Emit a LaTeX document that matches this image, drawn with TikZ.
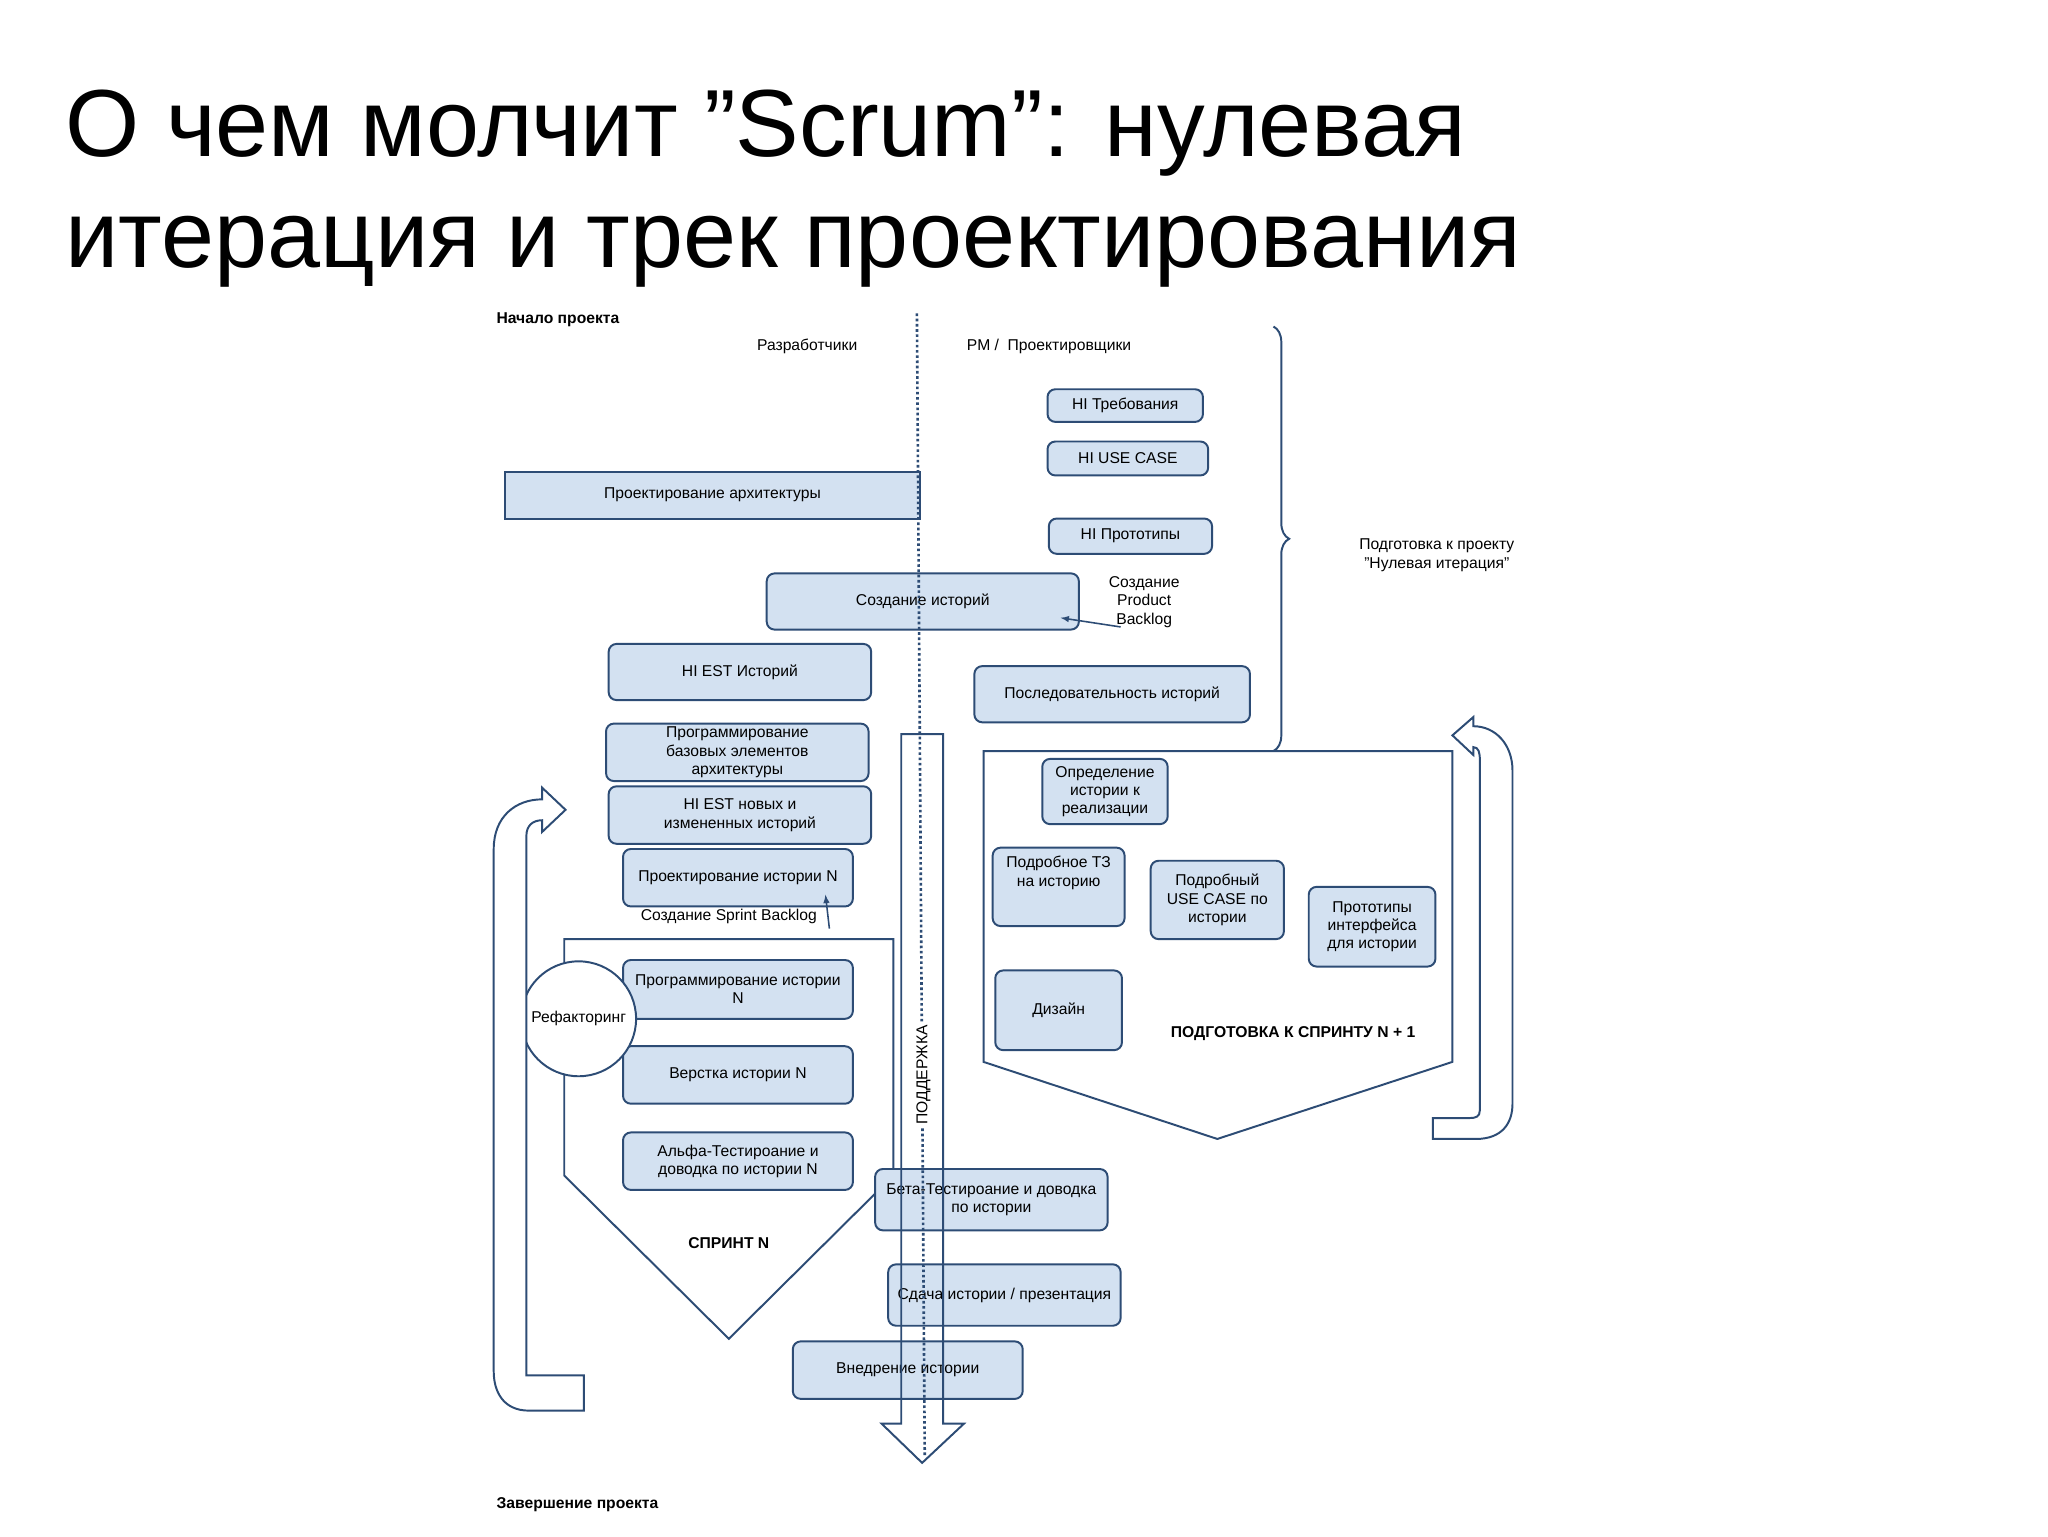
\documentclass[tikz,border=0pt]{standalone}
\usepackage{fontspec}
\setmainfont{Liberation Sans}
\usetikzlibrary{decorations.pathreplacing}
\definecolor{ln}{HTML}{2D4C75}
\definecolor{fl}{HTML}{D3E1F1}
\tikzset{
 bx/.style={draw=ln,fill=fl,line width=1.5pt,rounded corners=6pt,align=center,font=\fontsize{12}{14}\selectfont,inner sep=0pt},
 lbl/.style={align=center,font=\fontsize{12}{14}\selectfont,inner sep=0pt},
 blbl/.style={align=center,font=\fontsize{12}{14}\selectfont\bfseries,inner sep=0pt},
 ttl/.style={anchor=base west,font=\fontsize{73}{85}\selectfont,inner sep=0pt},
 shp/.style={draw=ln,line width=1.5pt},
}
\newcommand{\bxat}[6]{\node[bx,minimum width=#4-#2,minimum height=#5-#3] (#1) at ({(#2+#4)/2},{(#3+#5)/2}) {#6};}
\begin{document}
\begin{tikzpicture}[x=1pt,y=-1pt]
\useasboundingbox (0,0) rectangle (1568,1176);
\fill[white] (0,0) rectangle (1568,1176);
\node[ttl] (title1) at (50,120) {О чем молчит "Scrum": нулевая};
\node[ttl] (title2) at (50,205) {итерация и трек проектирования};
\node[blbl,anchor=west] (start) at (380,245) {Начало проекта};
\node[blbl,anchor=west] (end) at (380,1152) {Завершение проекта};
\node[lbl] (dev) at (618,265) {Разработчики};
\node[lbl,anchor=west] (pm) at (740,265) {PM /\ \ Проектировщики};
% pentagons
\draw[shp] (432,719) -- (684,719) -- (684,900) -- (558,1025) -- (432,900) -- cycle;
\draw[shp] (753,575) -- (1112,575) -- (1112,813) -- (932,872) -- (753,813) -- cycle;
% brace
\draw[shp,decorate,decoration={brace,amplitude=12pt,aspect=0.5}] (975,250) -- (975,575);
\node[lbl] (prep) at (1100,425) {Подготовка к проекту\\"Нулевая итерация"};
% boxes
\bxat{req}{802}{298}{921}{323}{HI Требования}
\bxat{uc}{802}{338}{925}{364}{HI USE CASE}
\node[bx,rounded corners=0pt,minimum width=317,minimum height=36] (arch) at (545.5,379) {Проектирование архитектуры};
\bxat{proto}{803}{397}{928}{424}{HI Прототипы}
\bxat{stories}{587}{439}{826}{482}{Создание историй}
\bxat{est}{466}{493}{667}{536}{HI EST Историй}
\bxat{seq}{746}{510}{957}{553}{Последовательность историй}
\bxat{base}{464}{554}{665}{598}{Программирование\\базовых элементов\\архитектуры}
\bxat{est2}{466}{602}{667}{646}{HI EST новых и\\измененных историй}
\bxat{design}{477}{650}{653}{694}{Проектирование истории N}
\bxat{prog}{477}{735}{653}{780}{Программирование истории\\N}
\bxat{vers}{477}{801}{653}{845}{Верстка истории N}
\bxat{alpha}{477}{867}{653}{911}{Альфа-Тестироание и\\доводка по истории N}
\bxat{defn}{798}{581}{894}{631}{Определение\\истории к\\реализации}
\bxat{tz}{760}{649}{861}{709}{Подробное ТЗ\\на историю\\[10pt]}
\bxat{ucs}{881}{659}{983}{719}{Подробный\\USE CASE по\\истории}
\bxat{pint}{1002}{679}{1099}{740}{Прототипы\\интерфейса\\для истории}
\bxat{dz}{762}{743}{859}{804}{Дизайн}
\bxat{beta}{670}{895}{848}{942}{Бета-Тестироание и доводка\\по истории}
\bxat{sd}{680}{968}{858}{1015}{Сдача истории / презентация}
\bxat{vn}{607}{1027}{783}{1071}{Внедрение истории}
\node[draw=ln,fill=white,line width=1.5pt,circle,minimum size=88,inner sep=0pt,font=\fontsize{12}{14}\selectfont] (ref) at (443,780) {Рефакторинг};
\node[blbl] (sprint) at (558,952) {СПРИНТ N};
\node[blbl] (next) at (990,791) {ПОДГОТОВКА К СПРИНТУ N + 1};
% dotted line
\coordinate (dtop) at (702,240);
\coordinate (dbot) at (708,1115);
\draw[ln,line width=2pt,dotted] (dtop) -- (dbot);
% support arrow
\draw[shp] (690,562) -- (722,562) -- (722,1090) -- (738,1090) -- (706,1120) -- (675,1090) -- (690,1090) -- cycle;
\node[lbl,rotate=90,fill=white,inner sep=2pt] (sup) at (707,823) {ПОДДЕРЖКА};
% labels with arrows
\node[lbl] (pbl) at (876,461) {Создание\\Product\\Backlog};
\coordinate (pbs) at (858,480);
\coordinate (pbe) at (812,473);
\draw[ln,line width=1.2pt,-latex] (pbs) -- (pbe);
\node[lbl] (sbl) at (558,702) {Создание Sprint Backlog};
\coordinate (sbs) at (635,711);
\coordinate (sbe) at (632,685);
\draw[ln,line width=1.2pt,-latex] (sbs) -- (sbe);
% U-turn arrows
\draw[shp,fill=white] (447,1080) -- (405,1080) .. controls (385,1080) and (378,1065) .. (378,1050) -- (378,650) .. controls (378,625) and (395,612) .. (415,612) -- (415,603) -- (433,620) -- (415,637) -- (415,628) .. controls (408,628) and (403,632) .. (403,640) -- (403,1053) -- (447,1053) -- cycle;
\draw[shp,fill=white] (1097,872) -- (1130,872) .. controls (1150,872) and (1158,860) .. (1158,845) -- (1158,590) .. controls (1158,570) and (1145,556) .. (1128,556) -- (1128,549) -- (1112,563) -- (1128,578) -- (1128,572) .. controls (1132,572) and (1133,576) .. (1133,582) -- (1133,850) .. controls (1133,855) and (1130,856) .. (1125,856) -- (1097,856) -- cycle;
\end{tikzpicture}
\end{document}
